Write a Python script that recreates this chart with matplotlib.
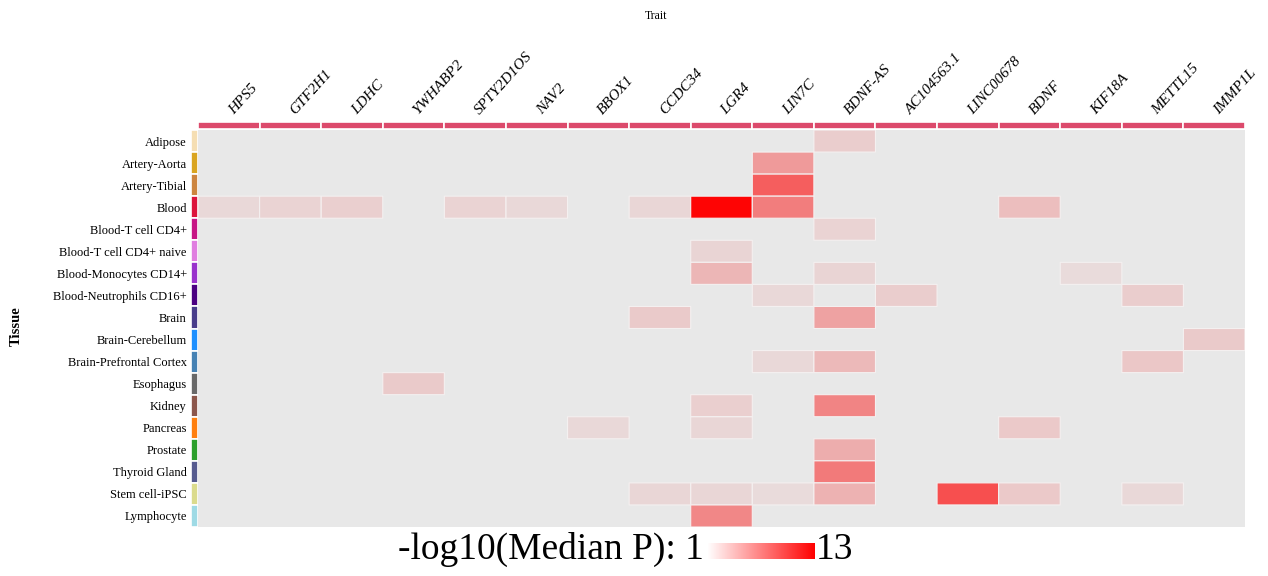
import numpy as np
import matplotlib
matplotlib.use('Agg')
import matplotlib.pyplot as plt
import matplotlib.transforms as mtransforms
from matplotlib.colors import LinearSegmentedColormap, Normalize

plt.rcParams['font.family'] = ['Liberation Serif', 'DejaVu Serif']

# ===== data
traits = ['HPS5', 'GTF2H1', 'LDHC', 'YWHABP2', 'SPTY2D1OS', 'NAV2', 'BBOX1', 'CCDC34',
          'LGR4', 'LIN7C', 'BDNF-AS', 'AC104563.1', 'LINC00678', 'BDNF', 'KIF18A',
          'METTL15', 'IMMP1L']

tissues = ['Adipose', 'Artery-Aorta', 'Artery-Tibial', 'Blood', 'Blood-T cell CD4+',
           'Blood-T cell CD4+ naive', 'Blood-Monocytes CD14+', 'Blood-Neutrophils CD16+',
           'Brain', 'Brain-Cerebellum', 'Brain-Prefrontal Cortex', 'Esophagus', 'Kidney',
           'Pancreas', 'Prostate', 'Thyroid Gland', 'Stem cell-iPSC', 'Lymphocyte']

tissue_colors = ['#f5deb3', '#daa520', '#cd853f', '#dc143c', '#c71585', '#e07ee0',
                 '#9932cc', '#4b0082', '#483d8b', '#1e90ff', '#4682b4', '#696969',
                 '#8c564b', '#ff7f0e', '#2ca02c', '#565b8f', '#dbdb8d', '#9edae5']

# -log10(median P), 0 = no result
#            HPS5 GTF2 LDHC YWHA SPTY NAV2 BBOX CCDC LGR4 LIN7 BDAS AC10 LINC BDNF KIF1 METT IMMP
median_p = [[0,   0,   0,   0,   0,   0,   0,   0,   0,   0,   2.4, 0,   0,   0,   0,   0,   0],
            [0,   0,   0,   0,   0,   0,   0,   0,   0,   5.0, 0,   0,   0,   0,   0,   0,   0],
            [0,   0,   0,   0,   0,   0,   0,   0,   0,   8.1, 0,   0,   0,   0,   0,   0,   0],
            [1.8, 2.1, 2.3, 0,   2.1, 1.8, 0,   1.9, 12.8, 6.5, 0,  0,   0,   3.2, 0,   0,   0],
            [0,   0,   0,   0,   0,   0,   0,   0,   0,   0,   2.1, 0,   0,   0,   0,   0,   0],
            [0,   0,   0,   0,   0,   0,   0,   0,   2.0, 0,   0,   0,   0,   0,   0,   0,   0],
            [0,   0,   0,   0,   0,   0,   0,   0,   3.6, 0,   2.0, 0,   0,   0,   1.7, 0,   0],
            [0,   0,   0,   0,   0,   0,   0,   0,   0,   1.8, 0,   2.4, 0,   0,   0,   2.4, 0],
            [0,   0,   0,   0,   0,   0,   0,   2.5, 0,   0,   4.6, 0,   0,   0,   0,   0,   0],
            [0,   0,   0,   0,   0,   0,   0,   0,   0,   0,   0,   0,   0,   0,   0,   0,   2.5],
            [0,   0,   0,   0,   0,   0,   0,   0,   0,   1.8, 3.4, 0,   0,   0,   0,   2.7, 0],
            [0,   0,   0,   2.5, 0,   0,   0,   0,   0,   0,   0,   0,   0,   0,   0,   0,   0],
            [0,   0,   0,   0,   0,   0,   0,   0,   2.3, 0,   6.2, 0,   0,   0,   0,   0,   0],
            [0,   0,   0,   0,   0,   0,   1.8, 0,   1.9, 0,   0,   0,   0,   2.6, 0,   0,   0],
            [0,   0,   0,   0,   0,   0,   0,   0,   0,   0,   4.0, 0,   0,   0,   0,   0,   0],
            [0,   0,   0,   0,   0,   0,   0,   0,   0,   0,   6.7, 0,   0,   0,   0,   0,   0],
            [0,   0,   0,   0,   0,   0,   0,   1.9, 1.9, 1.7, 3.8, 0,   8.9, 2.6, 0,   1.8, 0],
            [0,   0,   0,   0,   0,   0,   0,   0,   6.0, 0,   0,   0,   0,   0,   0,   0,   0]]

vmin, vmax = 1, 13

# ===== figure
W, H = 1268, 576
fig = plt.figure(figsize=(W / 100, H / 100), dpi=100)

def fx(px):
    return px / W

def fy(py):
    return 1 - py / H

cmap = LinearSegmentedColormap.from_list('red_alpha', [(1, 0, 0, 0), (1, 0, 0, 1)])
norm = Normalize(vmin=vmin, vmax=vmax)

# heatmap
ax = fig.add_axes([fx(198), fy(527), fx(1245) - fx(198), fy(130) - fy(527)])
ax.set_facecolor('#e8e8e8')
Z = np.ma.masked_equal(np.array(median_p, dtype=float), 0)
ax.pcolor(Z, cmap=cmap, norm=norm, edgecolors='#f4f0f0', linewidth=0.8)
ax.set_xlim(0, len(traits))
ax.set_ylim(len(tissues), 0)
ax.set_xticks([])
ax.set_yticks([])
for s in ax.spines.values():
    s.set_visible(False)

# top trait bar
ax_top = fig.add_axes([fx(198), fy(129), fx(1245) - fx(198), fy(122) - fy(129)])
ax_top.bar(np.arange(len(traits)) + 0.5, 1, width=1, color='#dc4a6c',
           edgecolor='white', linewidth=1.2)
ax_top.set_xlim(0, len(traits))
ax_top.set_ylim(0, 1)
ax_top.set_yticks([])
ax_top.set_xticks(np.arange(len(traits)) + 0.5)
ax_top.set_xticklabels(traits, rotation=48, ha='left', va='baseline',
                       rotation_mode='anchor', fontsize=11, style='italic')
ax_top.tick_params(axis='x', length=0, pad=5, top=True, labeltop=True,
                   bottom=False, labelbottom=False)
shift = mtransforms.ScaledTranslation(5 / 100, 0, fig.dpi_scale_trans)
for lab in ax_top.get_xticklabels():
    lab.set_transform(lab.get_transform() + shift)
for s in ax_top.spines.values():
    s.set_visible(False)

# tissue colour strip
ax_side = fig.add_axes([fx(191), fy(527), fx(198) - fx(191), fy(130) - fy(527)])
ax_side.barh(np.arange(len(tissues)) + 0.5, 1, height=1, color=tissue_colors,
             edgecolor='white', linewidth=1.2)
ax_side.set_ylim(len(tissues), 0)
ax_side.set_xlim(0, 1)
ax_side.set_xticks([])
ax_side.set_yticks(np.arange(len(tissues)) + 0.5)
ax_side.set_yticklabels(tissues, fontsize=9)
ax_side.tick_params(axis='y', length=0, pad=3)
for s in ax_side.spines.values():
    s.set_visible(False)

fig.text(fx(656), fy(16), 'Trait', ha='center', va='center', fontsize=8.5)
fig.text(fx(16), fy(326), 'Tissue', ha='center', va='center', rotation=90,
         fontsize=10.5, fontweight='bold')

# legend
fig.text(fx(704), fy(559), '-log10(Median P): 1', ha='right', va='baseline', fontsize=27)
ax_leg = fig.add_axes([fx(707), fy(559), fx(815) - fx(707), fy(543) - fy(559)])
grad = np.linspace(vmin, vmax, 256).reshape(1, -1)
ax_leg.imshow(grad, cmap=cmap, norm=norm, aspect='auto',
              extent=[vmin, vmax, 0, 1])
ax_leg.axis('off')
fig.text(fx(816), fy(559), '13', ha='left', va='baseline', fontsize=27)

fig.savefig('out.png', dpi=100, facecolor='white')
